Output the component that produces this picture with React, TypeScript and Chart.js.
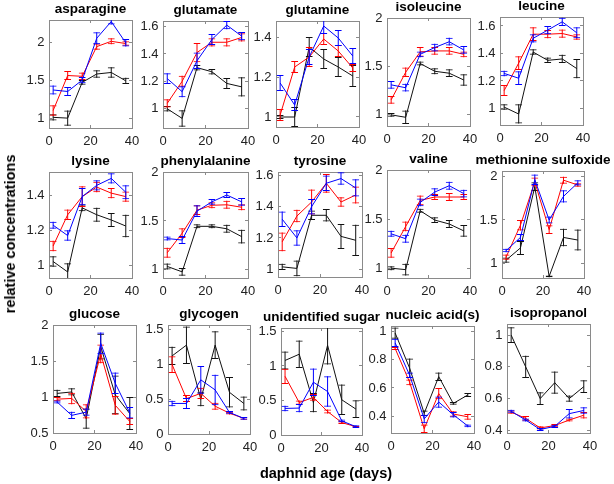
import React, { useEffect, useRef } from "react";
import { Chart, registerables } from "chart.js";

Chart.register(...registerables);

const FONT = '"Liberation Sans", Arial, Helvetica, sans-serif';

// ---- data ----
const days = [2, 9, 16, 23, 30, 37];
const xTicks = [0, 20, 40];

const asparagine = {
  black: [1.01, 1.0, 1.47, 1.58, 1.6, 1.49], blackErr: [0.04, 0.1, 0.03, 0.05, 0.07, 0.04],
  red: [1.1, 1.56, 1.55, 1.94, 2.01, 1.98], redErr: [0.07, 0.06, 0.05, 0.04, 0.04, 0.03],
  blue: [1.37, 1.35, 1.5, 2.05, 2.27, 1.99], blueErr: [0.06, 0.06, 0.04, 0.08, 0.04, 0.05],
};
const glutamate = {
  black: [1.0, 0.93, 1.3, 1.27, 1.185, 1.16], blackErr: [0.02, 0.06, 0.02, 0.02, 0.04, 0.07],
  red: [1.04, 1.2, 1.41, 1.485, 1.485, 1.52], redErr: [0.03, 0.04, 0.07, 0.03, 0.03, 0.03],
  blue: [1.22, 1.125, 1.35, 1.505, 1.61, 1.53], blueErr: [0.04, 0.04, 0.06, 0.04, 0.03, 0.03],
};
const glutamine = {
  black: [1.0, 1.0, 1.35, 1.29, 1.25, 1.205], blackErr: [0.01, 0.05, 0.05, 0.05, 0.05, 0.055],
  red: [1.01, 1.25, 1.3, 1.39, 1.33, 1.245], redErr: [0.03, 0.03, 0.05, 0.03, 0.03, 0.02],
  blue: [1.17, 1.06, 1.3, 1.455, 1.395, 1.305], blueErr: [0.04, 0.03, 0.04, 0.04, 0.04, 0.04],
};
const isoleucine = {
  black: [1.0, 0.975, 1.53, 1.45, 1.43, 1.36], blackErr: [0.02, 0.07, 0.02, 0.03, 0.04, 0.06],
  red: [1.155, 1.44, 1.65, 1.66, 1.66, 1.625], redErr: [0.04, 0.05, 0.05, 0.04, 0.04, 0.03],
  blue: [1.31, 1.28, 1.625, 1.695, 1.755, 1.67], blueErr: [0.04, 0.04, 0.03, 0.04, 0.04, 0.04],
};
const leucine = {
  black: [1.01, 0.96, 1.41, 1.35, 1.36, 1.29], blackErr: [0.02, 0.07, 0.02, 0.02, 0.03, 0.07],
  red: [1.13, 1.33, 1.54, 1.54, 1.545, 1.52], redErr: [0.04, 0.05, 0.05, 0.03, 0.03, 0.02],
  blue: [1.255, 1.22, 1.51, 1.57, 1.63, 1.55], blueErr: [0.02, 0.05, 0.03, 0.03, 0.03, 0.04],
};
const lysine = {
  black: [1.02, 0.96, 1.33, 1.29, 1.26, 1.225], blackErr: [0.03, 0.05, 0.02, 0.04, 0.04, 0.065],
  red: [1.11, 1.29, 1.395, 1.45, 1.415, 1.395], redErr: [0.03, 0.03, 0.06, 0.03, 0.03, 0.03],
  blue: [1.23, 1.17, 1.395, 1.46, 1.5, 1.42], blueErr: [0.02, 0.03, 0.05, 0.03, 0.03, 0.04],
};
const phenylalanine = {
  black: [1.035, 0.98, 1.445, 1.445, 1.42, 1.34], blackErr: [0.03, 0.04, 0.02, 0.02, 0.04, 0.07],
  red: [1.175, 1.375, 1.61, 1.66, 1.665, 1.64], redErr: [0.05, 0.05, 0.05, 0.03, 0.04, 0.03],
  blue: [1.32, 1.305, 1.6, 1.695, 1.765, 1.695], blueErr: [0.02, 0.04, 0.06, 0.03, 0.03, 0.04],
};
const tyrosine = {
  black: [1.015, 1.005, 1.345, 1.345, 1.21, 1.185], blackErr: [0.02, 0.05, 0.03, 0.04, 0.08, 0.1],
  red: [1.175, 1.34, 1.43, 1.55, 1.43, 1.475], redErr: [0.06, 0.04, 0.08, 0.06, 0.03, 0.055],
  blue: [1.32, 1.2, 1.4, 1.55, 1.58, 1.52], blueErr: [0.05, 0.05, 0.05, 0.05, 0.04, 0.055],
};
const valine = {
  black: [1.0, 0.985, 1.585, 1.49, 1.45, 1.38], blackErr: [0.02, 0.06, 0.02, 0.03, 0.04, 0.06],
  red: [1.155, 1.425, 1.69, 1.725, 1.725, 1.725], redErr: [0.05, 0.05, 0.05, 0.03, 0.04, 0.03],
  blue: [1.35, 1.3, 1.67, 1.775, 1.84, 1.76], blueErr: [0.03, 0.04, 0.04, 0.04, 0.04, 0.04],
};
const methionineSulfoxide = {
  black: [1.04, 1.18, 1.88, 0.855, 1.3, 1.27], blackErr: [0.03, 0.08, 0.05, 0.01, 0.1, 0.12],
  red: [1.075, 1.44, 1.935, 1.39, 1.955, 1.9], redErr: [0.03, 0.06, 0.05, 0.05, 0.04, 0.02],
  blue: [1.15, 1.3, 1.96, 1.5, 1.77, 1.925], blueErr: [0.02, 0.04, 0.06, 0.04, 0.07, 0.03],
};
const glucose = {
  black: [1.05, 1.07, 0.7, 1.7, 1.03, 0.77], blackErr: [0.05, 0.05, 0.14, 0.18, 0.27, 0.23],
  red: [0.97, 0.98, 0.8, 1.6, 0.885, 0.66], redErr: [0.03, 0.08, 0.1, 0.13, 0.13, 0.05],
  blue: [0.93, 0.745, 0.79, 1.745, 1.19, 0.78], blueErr: [0.02, 0.05, 0.05, 0.15, 0.15, 0.08],
};
const glycogen = {
  black: [1.125, 1.28, 0.5, 1.28, 0.6, 0.44], blackErr: [0.13, 0.27, 0.1, 0.2, 0.22, 0.1],
  red: [1.0, 0.51, 0.585, 0.4, 0.3, 0.225], redErr: [0.12, 0.05, 0.08, 0.05, 0.02, 0.02],
  blue: [0.44, 0.44, 0.78, 0.635, 0.31, 0.225], blueErr: [0.04, 0.08, 0.2, 0.22, 0.02, 0.02],
};
const unidentifiedSugar = {
  black: [1.08, 1.17, 0.47, 1.3, 0.51, 0.375], blackErr: [0.13, 0.2, 0.14, 0.28, 0.22, 0.13],
  red: [0.85, 0.47, 0.545, 0.34, 0.18, 0.12], redErr: [0.11, 0.03, 0.05, 0.03, 0.02, 0.01],
  blue: [0.385, 0.39, 0.765, 0.63, 0.205, 0.12], blueErr: [0.04, 0.06, 0.2, 0.22, 0.02, 0.02],
};
const nucleicAcids = {
  black: [0.99, 0.74, 0.42, 0.68, 0.49, 0.55], blackErr: [0.04, 0.07, 0.02, 0.03, 0.01, 0.015],
  red: [0.88, 0.64, 0.31, 0.56, 0.415, 0.395], redErr: [0.01, 0.02, 0.03, 0.04, 0.02, 0.02],
  blue: [0.92, 0.69, 0.38, 0.5, 0.41, 0.33], blueErr: [0.03, 0.02, 0.03, 0.04, 0.02, 0.01],
};
const isopropanol = {
  black: [1.0, 0.8, 0.6, 0.7, 0.6, 0.675], blackErr: [0.05, 0.07, 0.04, 0.07, 0.02, 0.04],
  red: [0.515, 0.475, 0.415, 0.43, 0.465, 0.495], redErr: [0.01, 0.015, 0.01, 0.01, 0.01, 0.02],
  blue: [0.52, 0.465, 0.405, 0.425, 0.505, 0.525], blueErr: [0.01, 0.01, 0.01, 0.01, 0.03, 0.02],
};

const ticks1to2 = [1, 1.5, 2];
const ticks1to16 = [1, 1.2, 1.4, 1.6];
const ticks1to14 = [1, 1.2, 1.4];
const ticksGlucose = [0.5, 1, 1.5, 2];
const ticksSugar = [0, 0.5, 1, 1.5];
const ticksLow = [0.4, 0.6, 0.8, 1];

// ---- layout (plot box in page pixels) ----
const panels = [
  { title: "asparagine", d: asparagine, box: [49, 20, 132, 128], y: [0.87, 2.29], yt: ticks1to2 },
  { title: "glutamate", d: glutamate, box: [163, 21, 248, 128], y: [0.86, 1.64], yt: ticks1to16 },
  { title: "glutamine", d: glutamine, box: [276, 21, 359, 127], y: [0.95, 1.48], yt: ticks1to14 },
  { title: "isoleucine", d: isoleucine, box: [387, 18, 470, 126], y: [0.885, 2.0], yt: ticks1to2 },
  { title: "leucine", d: leucine, box: [500, 17, 583, 125], y: [0.88, 1.665], yt: ticks1to16 },
  { title: "lysine", d: lysine, box: [49, 172, 132, 278], y: [0.925, 1.537], yt: ticks1to14 },
  { title: "phenylalanine", d: phenylalanine, box: [163, 172, 248, 278], y: [0.917, 2.0], yt: ticks1to2 },
  { title: "tyrosine", d: tyrosine, box: [278, 172, 362, 277], y: [0.95, 1.622], yt: ticks1to16 },
  { title: "valine", d: valine, box: [387, 170, 470, 278], y: [0.9, 2.0], yt: ticks1to2 },
  { title: "methionine sulfoxide", d: methionineSulfoxide, box: [502, 171, 584, 278], y: [0.836, 2.06], yt: ticks1to2 },
  { title: "glucose", d: glucose, box: [53, 325, 136, 433], y: [0.5, 2.0], yt: ticksGlucose },
  { title: "glycogen", d: glycogen, box: [168, 325, 250, 434], y: [0, 1.57], yt: ticksSugar },
  { title: "unidentified sugar", d: unidentifiedSugar, box: [281, 328, 362, 435], y: [0, 1.55], yt: ticksSugar },
  { title: "nucleic acid(s)", d: nucleicAcids, box: [391, 326, 474, 433], y: [0.28, 1.04], yt: ticksLow },
  { title: "isopropanol", d: isopropanol, box: [507, 324, 590, 433], y: [0.383, 1.07], yt: ticksLow },
];

const SIDE = 45; // y-axis band width (left, and mirrored on the right so titles centre on the box)
const TITLE_H = 17;
const XAXIS_H = 24;
const BOX_COLOR = "#8a8a8a";
const TEXT_COLOR = "#222";
const SERIES = [
  { key: "blue", color: "#0000ff" },
  { key: "red", color: "#ff0000" },
  { key: "black", color: "#111111" },
];

const fmt = (v: number) => String(Math.round(v * 100) / 100);

function Panel({ p }: { p: any }) {
  const ref = useRef<HTMLCanvasElement>(null);
  const [l, t, r, b] = p.box;
  const w = SIDE + (r - l) + SIDE;
  const h = TITLE_H + (b - t) + XAXIS_H;

  useEffect(() => {
    if (!ref.current) return;
    const datasets: any[] = [];
    for (const s of SERIES) {
      const m: number[] = p.d[s.key];
      const e: number[] = p.d[s.key + "Err"];
      datasets.push({
        type: "line",
        data: days.map((x, i) => ({ x, y: m[i] })),
        borderColor: s.color,
        borderWidth: 1,
        pointRadius: 0,
        tension: 0,
        fill: false,
      });
      datasets.push({
        type: "bar",
        data: days.map((x, i) => ({ x, y: [m[i] - e[i], m[i] + e[i]] })),
        backgroundColor: "rgba(0,0,0,0)",
        borderColor: s.color,
        borderWidth: { top: 1, bottom: 1, left: 0, right: 0 },
        borderSkipped: false,
        barThickness: 7,
        grouped: false,
        inflateAmount: 0,
      });
      datasets.push({
        type: "bar",
        data: days.map((x, i) => ({ x, y: [m[i] - e[i], m[i] + e[i]] })),
        backgroundColor: s.color,
        borderWidth: 0,
        barThickness: 1,
        grouped: false,
        inflateAmount: 0,
      });
    }
    const gridCommon = {
      display: true,
      drawOnChartArea: false,
      drawTicks: true,
      tickLength: -3,
      color: BOX_COLOR,
      offset: false,
    };
    const border = { display: true, color: BOX_COLOR, width: 1 };
    const tickFont = { family: FONT, size: 13 };
    const chart = new Chart(ref.current, {
      type: "line",
      data: { datasets },
      options: {
        animation: false,
        responsive: false,
        devicePixelRatio: 1,
        events: [],
        layout: { padding: 0 },
        plugins: {
          legend: { display: false },
          tooltip: { enabled: false },
          title: {
            display: true,
            text: p.title,
            color: "#000",
            font: { family: FONT, size: 13.5, weight: "bold", lineHeight: 1 },
            padding: { top: 0, bottom: 3.5 },
            fullSize: true,
          },
        },
        scales: {
          x: {
            type: "linear",
            position: "bottom",
            min: 0,
            max: 40,
            offset: false,
            afterBuildTicks: (s: any) => { s.ticks = xTicks.map((v) => ({ value: v })); },
            afterFit: (s: any) => { s.height = XAXIS_H; },
            grid: gridCommon,
            border,
            ticks: { color: TEXT_COLOR, font: tickFont, padding: 9, maxRotation: 0, autoSkip: false, callback: (v: any) => fmt(v) },
          },
          x2: {
            type: "linear",
            position: "top",
            min: 0,
            max: 40,
            offset: false,
            afterBuildTicks: (s: any) => { s.ticks = xTicks.map((v) => ({ value: v })); },
            afterFit: (s: any) => { s.height = 0; },
            grid: gridCommon,
            border,
            ticks: { display: false },
          },
          y: {
            type: "linear",
            position: "left",
            min: p.y[0],
            max: p.y[1],
            afterBuildTicks: (s: any) => { s.ticks = p.yt.map((v: number) => ({ value: v })); },
            afterFit: (s: any) => { s.width = SIDE; },
            grid: gridCommon,
            border,
            ticks: { color: TEXT_COLOR, font: tickFont, padding: 7.5, autoSkip: false, callback: (v: any) => fmt(v) },
          },
          y2: {
            type: "linear",
            position: "right",
            min: p.y[0],
            max: p.y[1],
            afterBuildTicks: (s: any) => { s.ticks = p.yt.map((v: number) => ({ value: v })); },
            afterFit: (s: any) => { s.width = SIDE; },
            grid: gridCommon,
            border,
            ticks: { display: false },
          },
        },
      } as any,
    } as any);
    return () => chart.destroy();
  }, []);

  return (
    <canvas
      ref={ref}
      width={w}
      height={h}
      style={{ position: "absolute", left: l - SIDE, top: t - TITLE_H, width: w, height: h }}
    />
  );
}

export default function App() {
  return (
    <div style={{ position: "fixed", left: 0, top: 0, width: 614, height: 484, background: "#fff", overflow: "hidden" }}>
      {panels.map((p) => (
        <Panel key={p.title} p={p} />
      ))}
      <div
        style={{
          position: "absolute",
          left: 10,
          top: 234,
          transform: "translate(-50%, -50%) rotate(-90deg)",
          whiteSpace: "nowrap",
          fontFamily: FONT,
          fontWeight: "bold",
          fontSize: 14.5,
          color: "#000",
        }}
      >
        relative concentrations
      </div>
      <div
        style={{
          position: "absolute",
          left: 326,
          top: 473,
          transform: "translate(-50%, -50%)",
          whiteSpace: "nowrap",
          fontFamily: FONT,
          fontWeight: "bold",
          fontSize: 14.5,
          color: "#000",
        }}
      >
        daphnid age (days)
      </div>
    </div>
  );
}
